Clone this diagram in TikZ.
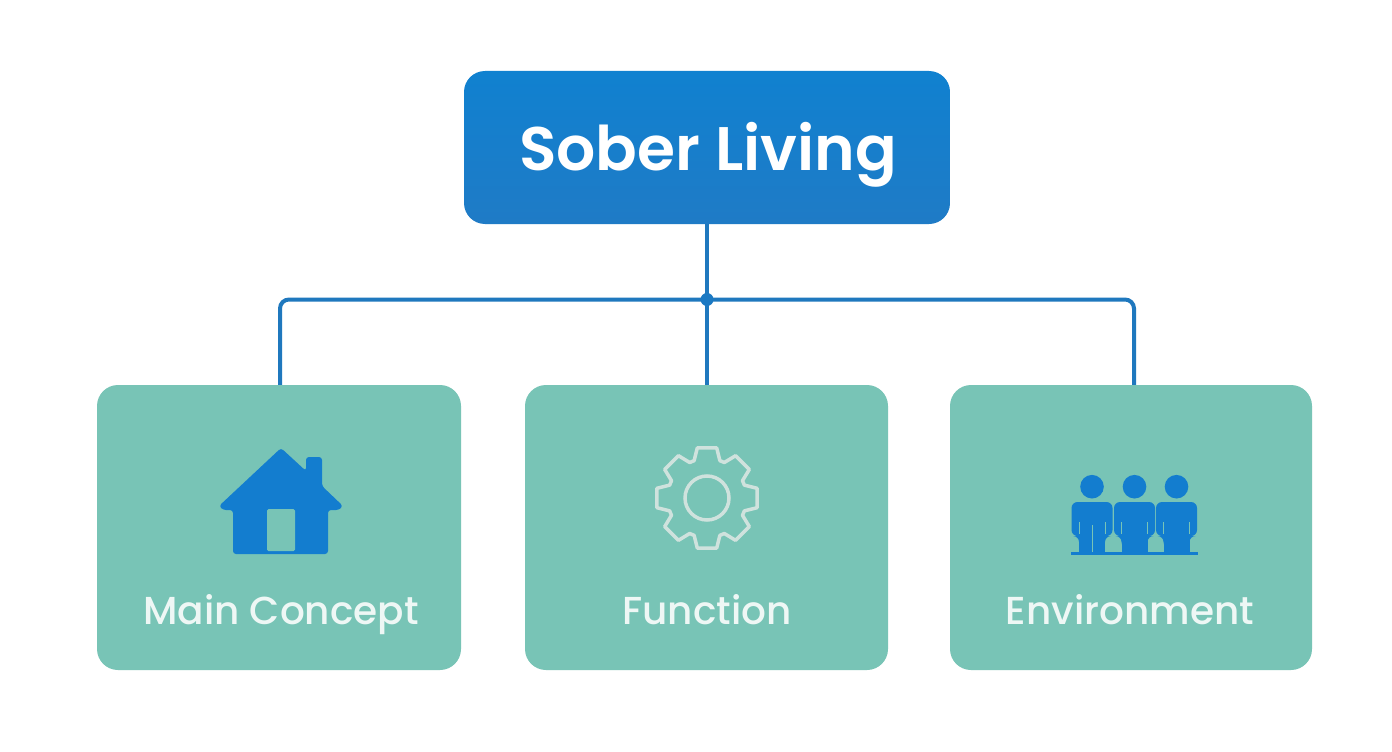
\documentclass[tikz,border=0pt]{standalone}
\usepackage{fontspec}
\setmainfont{Poppins}
\newfontfamily\titlefont{Poppins SemiBold}
\newfontfamily\labelfont{Poppins Medium}
\definecolor{topblue}{HTML}{1081D0}
\definecolor{botblue}{HTML}{1F7BC6}
\definecolor{teal}{HTML}{78C4B6}
\definecolor{iconblue}{HTML}{137DCF}
\definecolor{linkblue}{HTML}{1F78BE}
\definecolor{gearline}{HTML}{CFE2DD}
\definecolor{labelwhite}{HTML}{EEF7F5}
\tikzset{
  titlebox/.style={rounded corners=21pt,top color=topblue,bottom color=botblue,minimum width=486pt,minimum height=153pt,inner sep=0pt},
  titletext/.style={inner sep=0pt,text=white,anchor=base,font=\titlefont\fontsize{61.5}{64}\selectfont},
  cardbox/.style={rounded corners=21pt,fill=teal,minimum height=285pt,inner sep=0pt},
  cardlabel/.style={inner sep=0pt,text=labelwhite,anchor=base,font=\labelfont\fontsize{39}{42}\selectfont},
  link/.style={draw=linkblue,line width=4pt,rounded corners=9pt},
  iconfill/.style={fill=iconblue,draw=none},
}
\begin{document}
\begin{tikzpicture}[x=1pt,y=-1pt]
\path[use as bounding box,fill=white] (0,0) rectangle (1392,752);
% nodes
\node[titlebox] (root) at (707,147.5) {};
\node[titletext] (roottext) at (708,170) {Sober Living};
\node[cardbox,minimum width=364pt] (main) at (279,527.5) {};
\node[cardbox,minimum width=363pt] (func) at (706.5,527.5) {};
\node[cardbox,minimum width=362pt] (env) at (1131,527.5) {};
\node[cardlabel] (mainlabel) at (281,624) {Main Concept};
\node[cardlabel] (funclabel) at (707,624) {Function};
\node[cardlabel] (envlabel) at (1130,624) {Environment};
% connectors
\coordinate (hub) at (707,299.5);
\coordinate (mainin) at ([xshift=1pt]main.north);
\coordinate (envin) at ([xshift=3pt]env.north);
\draw[link] (root.south -| hub) -- (hub);
\draw[link] (hub) -- (hub |- func.north);
\draw[link] (hub) -| (mainin);
\draw[link] (hub) -| (envin);
\fill[linkblue!70!iconblue] (hub) circle (6.5pt);
% house
\path[iconfill,rounded corners=3pt]
  (281,448) -- (306,471) -- (306,457) -- (322,457) -- (322,486)
  -- (343,506) -- (339,510) -- (328,510) -- (328,554) -- (233,554) -- (233,510) -- (223,510) -- (219,506) -- cycle;
\fill[teal,rounded corners=1.5pt] (267,509) rectangle (295,551);
% gear
\begin{scope}[shift={(707,498)}]
\draw[gearline,line width=3.5pt,line join=round]
  (-11:51) \foreach \a in {0,45,...,315} {
    -- ({\a-11}:51) -- ({\a+11}:51) -- ({\a+19}:39.5) -- ({\a+26}:39.5)
  } -- cycle;
\draw[gearline,line width=3.5pt] (0,0) circle (22);
\end{scope}
% people
\foreach \cx in {1092,1134.5,1176.5} {
  \fill[iconblue] (\cx,486.7) circle (11.8);
  \path[iconfill,rounded corners=6pt]
    (\cx-20.5,502) -- (\cx+20.5,502) -- (\cx+20.5,536) -- (\cx+13,536)
    -- (\cx+13,548) -- (\cx-13,548) -- (\cx-13,536) -- (\cx-20.5,536) -- cycle;
  \fill[iconblue] (\cx-13,530) rectangle (\cx+13,554);
  \draw[teal,line width=1pt] (\cx-13,522) -- (\cx-13,534);
  \draw[teal,line width=1pt] (\cx+13,522) -- (\cx+13,534);
}
\draw[teal,line width=1pt] (1092.5,525) -- (1092.5,552);
\fill[iconblue] (1071,552) rectangle (1198,555);
\end{tikzpicture}
\end{document}
